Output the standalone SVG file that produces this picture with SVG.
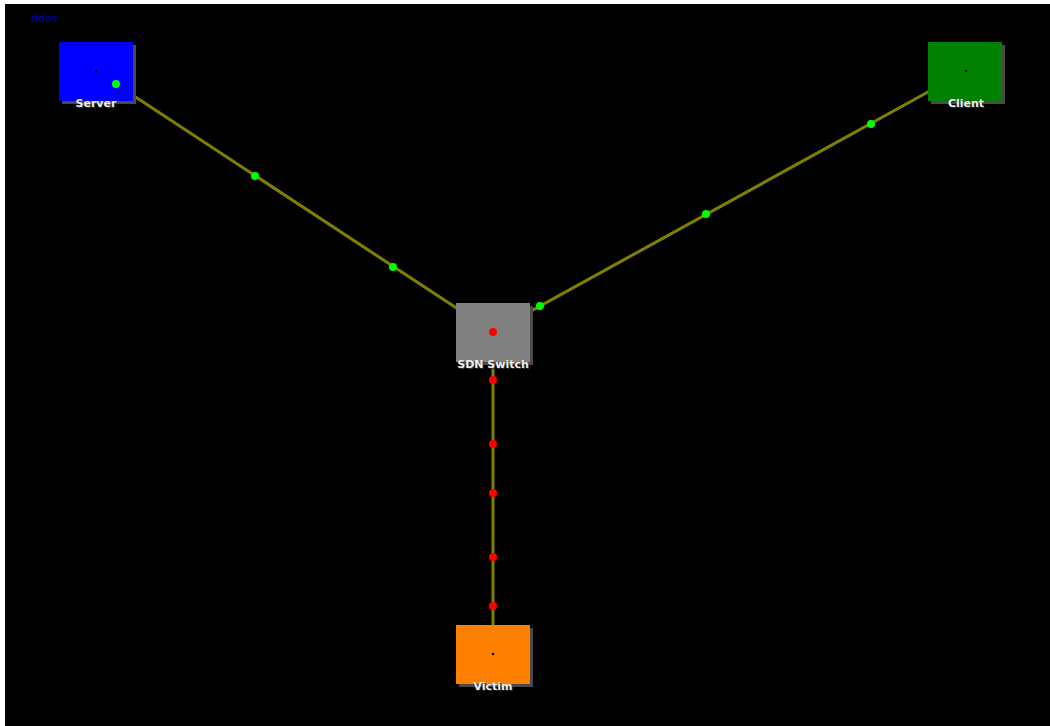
<svg xmlns="http://www.w3.org/2000/svg" width="1050" height="726" viewBox="0 0 1050 726">
<style>
.bg{fill:#000}
.shadow{fill:#4a4a4a}
.title{font-family:"DejaVu Sans",sans-serif;font-size:11px;fill:#0000c0}
.lbl{font-family:"DejaVu Sans",sans-serif;font-size:11px;font-weight:bold;fill:#eeeeee;text-anchor:middle}
.lblsh{font-family:"DejaVu Sans",sans-serif;font-size:11px;font-weight:bold;fill:#333;text-anchor:middle}
.link{stroke:#808000;stroke-width:3;fill:none}
.pg{fill:#00ff00}
.pr{fill:#ff0000}
.cdot{fill:#000}
</style>
<rect x="0" y="0" width="1050" height="726" fill="#fff"/>
<rect class="bg" x="5" y="4" width="1045" height="722"/>
<text class="title" x="31" y="22">ddos</text>
<g id="connectors">
<line class="link" x1="96" y1="71" x2="493" y2="332"/>
<line class="link" x1="966" y1="71" x2="493" y2="332"/>
<line class="link" x1="493" y1="332" x2="493" y2="654"/>
</g>
<g id="server">
<rect class="shadow" x="62" y="45" width="74" height="59"/>
<rect x="59" y="42" width="74" height="59" fill="#0000ff"/>
<circle class="cdot" cx="96" cy="71" r="1.3"/>
<text class="lblsh" x="97" y="108">Server</text>
<text class="lbl" x="96" y="107">Server</text>
</g>
<g id="client">
<rect class="shadow" x="931" y="45" width="74" height="59"/>
<rect x="928" y="42" width="74" height="59" fill="#008000"/>
<circle class="cdot" cx="966" cy="71" r="1.3"/>
<text class="lblsh" x="967" y="108">Client</text>
<text class="lbl" x="966" y="107">Client</text>
</g>
<g id="switch">
<rect class="shadow" x="459" y="306" width="74" height="59"/>
<rect x="456" y="303" width="74" height="59" fill="#808080"/>
<text class="lblsh" x="494" y="369">SDN Switch</text>
<text class="lbl" x="493" y="368">SDN Switch</text>
</g>
<g id="victim">
<rect class="shadow" x="459" y="628" width="74" height="59"/>
<rect x="456" y="625" width="74" height="59" fill="#ff8000"/>
<circle class="cdot" cx="493" cy="654" r="1.3"/>
<text class="lblsh" x="494" y="691">Victim</text>
<text class="lbl" x="493" y="690">Victim</text>
</g>
<g id="packets">
<circle class="pg" cx="116" cy="84" r="4"/>
<circle class="pg" cx="255" cy="176" r="4"/>
<circle class="pg" cx="393" cy="267" r="4"/>
<circle class="pg" cx="871" cy="124" r="4"/>
<circle class="pg" cx="706" cy="214" r="4"/>
<circle class="pg" cx="540" cy="306" r="4"/>
<circle class="pr" cx="493" cy="332" r="4"/>
<circle class="pr" cx="493" cy="380" r="4"/>
<circle class="pr" cx="493" cy="444" r="4"/>
<circle class="pr" cx="493" cy="493" r="4"/>
<circle class="pr" cx="493" cy="557" r="4"/>
<circle class="pr" cx="493" cy="606" r="4"/>
</g>
</svg>
